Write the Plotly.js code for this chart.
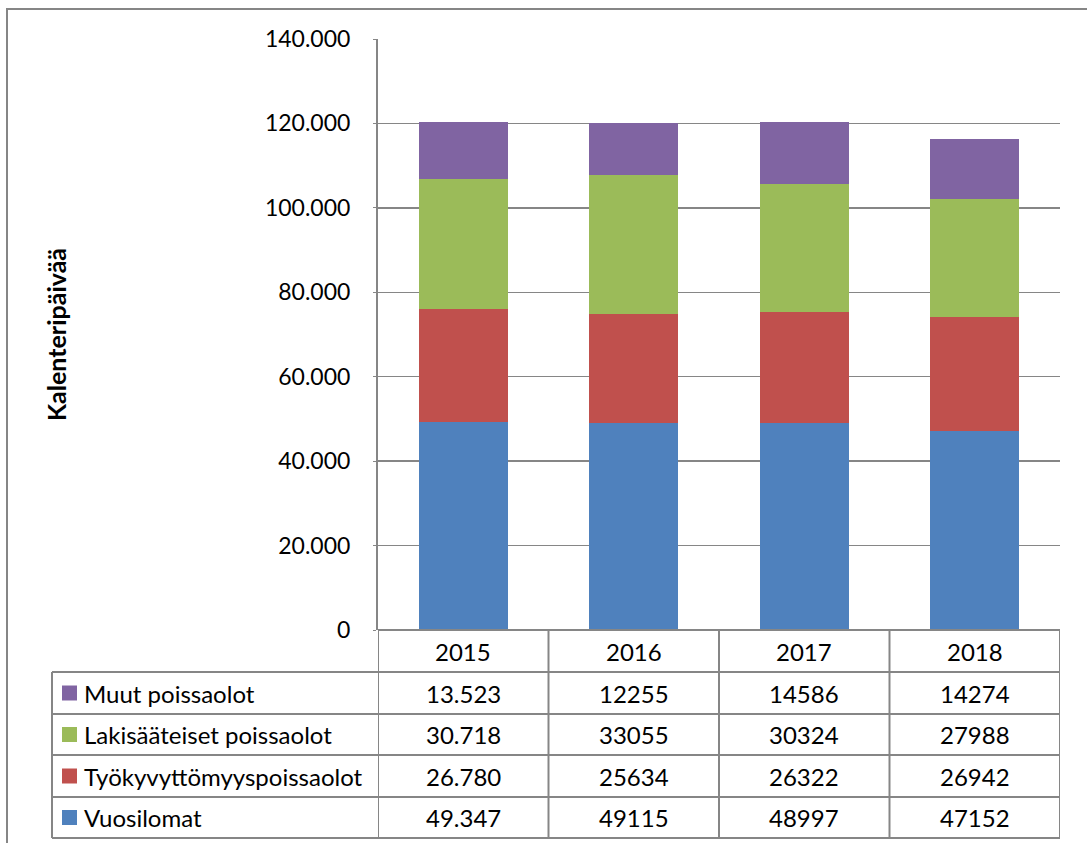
<!DOCTYPE html>
<html>
<head>
<meta charset="utf-8">
<script src="https://cdn.plot.ly/plotly-3.0.1.min.js"></script>
<style>html,body{margin:0;padding:0;background:#fff;}#chart{width:1087px;height:843px;}</style>
</head>
<body>
<div id="chart"></div>
<script>
const years = ['2015', '2016', '2017', '2018'];
const seriesNames = ['Vuosilomat', 'Työkyvyttömyyspoissaolot', 'Lakisääteiset poissaolot', 'Muut poissaolot'];
const vuosilomat = [49347, 49115, 48997, 47152];
const tyokyvyttomyys = [26780, 25634, 26322, 26942];
const lakisaateiset = [30718, 33055, 30324, 27988];
const muut = [13523, 12255, 14586, 14274];
const vuosilomatLabels = ['49.347', '49115', '48997', '47152'];
const tyokyvyttomyysLabels = ['26.780', '25634', '26322', '26942'];
const lakisaateisetLabels = ['30.718', '33055', '30324', '27988'];
const muutLabels = ['13.523', '12255', '14586', '14274'];
const colors = ['#4F81BD', '#C0504D', '#9BBB59', '#8064A2'];
const yTitle = 'Kalenteripäivää';

const W = 1087, H = 843;
const L = 378, R = 1060, T = 39, B = 630;
const px = p => (p - L) / (R - L);
const py = p => (B - p) / (B - T);

const values = [vuosilomat, tyokyvyttomyys, lakisaateiset, muut];
const labels = [vuosilomatLabels, tyokyvyttomyysLabels, lakisaateisetLabels, muutLabels];

const traces = values.map((v, i) => ({
  type: 'bar', name: seriesNames[i], x: years, y: v,
  marker: {color: colors[i], line: {width: 0}},
  hoverinfo: 'x+y+name'
}));

const font = 'Lato, "Open Sans", sans-serif';
const gridC = '#868686';
const FS = 24;

const rowEdges = [672, 714, 755, 797, 838];
const annotations = [];
const shapes = [];

years.forEach((y, j) => annotations.push({
  xref: 'x', yref: 'paper', x: j, y: py(651), text: y, showarrow: false,
  font: {family: font, size: FS, color: '#000'}, xanchor: 'center', yanchor: 'middle'
}));

for (let r = 0; r < 4; r++) {
  const si = 3 - r;
  const cy = (rowEdges[r] + rowEdges[r + 1]) / 2;
  annotations.push({
    xref: 'paper', yref: 'paper', x: px(82), y: py(cy), text: seriesNames[si], showarrow: false,
    font: {family: font, size: FS, color: '#000'}, xanchor: 'left', yanchor: 'middle'
  });
  shapes.push({type: 'rect', xref: 'paper', yref: 'paper', x0: px(62), x1: px(77), y0: py(cy - 7.5), y1: py(cy + 7.5),
    fillcolor: colors[si], line: {width: 0}});
  years.forEach((y, j) => annotations.push({
    xref: 'x', yref: 'paper', x: j, y: py(cy), text: labels[si][j], showarrow: false,
    font: {family: font, size: FS, color: '#000'}, xanchor: 'center', yanchor: 'middle'
  }));
}

annotations.push({
  xref: 'paper', yref: 'paper', x: px(56), y: py(335), text: '<b>' + yTitle + '</b>', showarrow: false,
  textangle: -90, font: {family: font, size: 25, color: '#000'}, xanchor: 'center', yanchor: 'middle'
});

const ln = {color: gridC, width: 2};
shapes.push({type: 'line', xref: 'paper', yref: 'paper', x0: px(378), x1: px(1060), y0: py(630), y1: py(630), line: ln});
rowEdges.forEach(e => shapes.push({type: 'line', xref: 'paper', yref: 'paper', x0: px(52), x1: px(1060), y0: py(e), y1: py(e), line: ln}));
shapes.push({type: 'line', xref: 'paper', yref: 'paper', x0: px(52), x1: px(52), y0: py(672), y1: py(838), line: ln});
[-0.5, 0.5, 1.5, 2.5, 3.5].forEach(xv => shapes.push({type: 'line', xref: 'x', yref: 'paper', x0: xv, x1: xv, y0: py(630), y1: py(838), line: ln}));
shapes.push({type: 'rect', xref: 'paper', yref: 'paper', x0: px(7), x1: px(1095), y0: py(9), y1: py(850), line: {color: gridC, width: 2}, fillcolor: 'rgba(0,0,0,0)'});

const layout = {
  width: W, height: H,
  margin: {l: L, r: W - R, t: T, b: H - B, pad: 0},
  barmode: 'stack', bargap: 0.48,
  showlegend: false,
  separators: ',.',
  paper_bgcolor: '#fff', plot_bgcolor: '#fff',
  font: {family: font, size: FS, color: '#000'},
  xaxis: {type: 'category', range: [-0.5, 3.5], showticklabels: false, ticks: '', showgrid: false, showline: false, zeroline: false, fixedrange: true},
  yaxis: {range: [0, 140000], tickvals: [0, 20000, 40000, 60000, 80000, 100000, 120000, 140000], tickformat: ',d',
    showgrid: true, gridcolor: gridC, gridwidth: 1.5, showline: true, linecolor: gridC, linewidth: 2,
    ticks: 'outside', ticklen: 3, tickcolor: gridC, zeroline: false, ticklabelstandoff: 18,
    tickfont: {family: font, size: 23, color: '#000'}, fixedrange: true},
  annotations: annotations,
  shapes: shapes
};

Plotly.newPlot('chart', traces, layout, {displayModeBar: false, staticPlot: true});
</script>
</body>
</html>
